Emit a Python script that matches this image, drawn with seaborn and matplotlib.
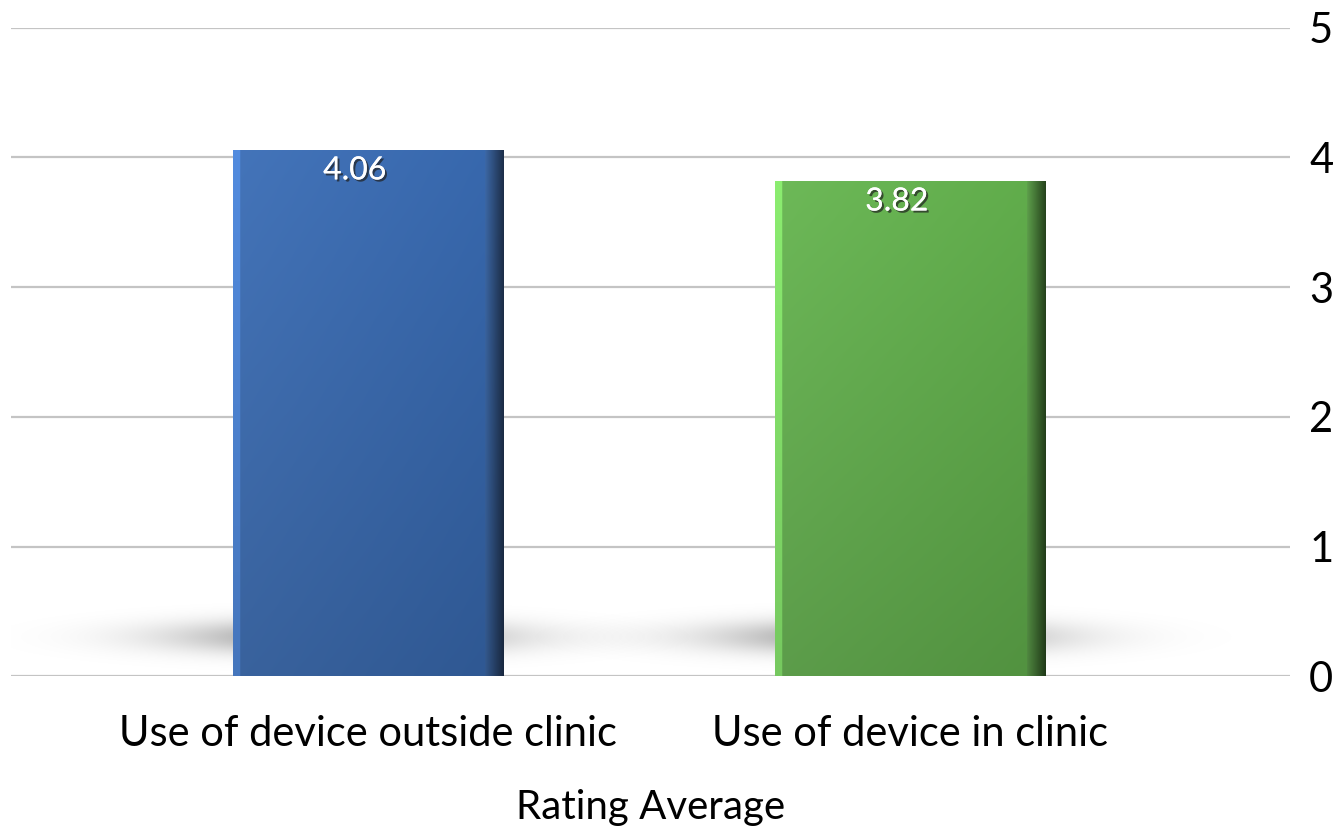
import numpy as np
import pandas as pd
import matplotlib.pyplot as plt
import matplotlib.patheffects as pe
from matplotlib.colors import to_rgb
import seaborn as sns

categories = ['Use of device outside clinic', 'Use of device in clinic']
ratings = [4.06, 3.82]
value_labels = ['4.06', '3.82']
yticks = [0, 1, 2, 3, 4, 5]
xlabel = 'Rating Average'

# light / mid / dark shade per bar
shades = [('#4f86d6', '#3b66a3', '#1c2d47'),
          ('#86e46c', '#5c9c4a', '#25421c')]

df = pd.DataFrame({'category': categories, 'rating': ratings})

sns.set_style('white')
plt.rcParams['font.family'] = ['Lato', 'DejaVu Sans']

fig = plt.figure(figsize=(13.35, 8.39), dpi=100)
ax = fig.add_axes([0.008, 0.194, 0.958, 0.773])

sns.barplot(data=df, x='category', y='rating', hue='category',
            palette=[s[1] for s in shades], width=0.5, legend=False,
            saturation=1, ax=ax, zorder=3)
bars = list(ax.patches)

ax.set_xlim(-0.66, 1.70)
ax.set_ylim(0, 5)
ax.set_yticks(yticks)
ax.yaxis.tick_right()
ax.tick_params(axis='y', length=0, pad=14, labelsize=30, labelcolor='black')
ax.tick_params(axis='x', length=0, pad=28, labelsize=30, labelcolor='black')
ax.grid(axis='y', color='#c4c4c4', linewidth=1.6, zorder=1)
ax.set_axisbelow(True)
for s in ax.spines.values():
    s.set_visible(False)
ax.set_ylabel('')
ax.set_xlabel(xlabel, fontsize=29, labelpad=26, color='black')

# soft shadow under the bars
for p in bars:
    cx = p.get_x() + p.get_width() * 0.4
    xs = np.linspace(cx - 0.7, cx + 0.7, 200)
    ys = np.linspace(0, 0.8, 80)
    gx, gy = np.meshgrid(xs, ys)
    blob = np.exp(-((gx - cx) / 0.3) ** 2 - ((gy - 0.3) / 0.13) ** 2)
    img = np.zeros((80, 200, 4))
    img[..., 3] = blob * 0.4
    ax.imshow(img, extent=[xs[0], xs[-1], 0, 0.8], origin='lower',
              aspect='auto', zorder=2, interpolation='bilinear')

# gradient fill clipped to each bar
for p, (light, mid, dark) in zip(bars, shades):
    x0, w, h = p.get_x(), p.get_width(), p.get_height()
    n = 300
    t = np.linspace(0, 1, n)
    l, m, d = np.array(to_rgb(light)), np.array(to_rgb(mid)), np.array(to_rgb(dark))
    row = np.empty((n, 3))
    for i, v in enumerate(t):
        if v < 0.025:
            row[i] = l
        elif v < 0.93:
            row[i] = l * 0.3 + m * 0.7 - (v - 0.025) * 0.05
        else:
            k = (v - 0.93) / 0.07
            row[i] = m * (1 - k) + d * k
    vert = np.linspace(0.88, 1.04, 200)[:, None, None]
    img = np.clip(row[None, :, :] * vert, 0, 1)
    im = ax.imshow(img, extent=[x0, x0 + w, 0, h], origin='lower',
                   aspect='auto', zorder=4, interpolation='bilinear')
    im.set_clip_path(p)
    p.set_edgecolor('none')

for p, lab in zip(bars, value_labels):
    ax.text(p.get_x() + p.get_width() * 0.45, p.get_height() - 0.16, lab,
            ha='center', va='center', color='white', fontsize=23, zorder=6,
            path_effects=[pe.withSimplePatchShadow(offset=(1.5, -1.5),
                                                   shadow_rgbFace='#202020',
                                                   alpha=0.7),
                          pe.Normal()])

ax.set_xlim(-0.66, 1.70)
ax.set_ylim(0, 5)
plt.savefig('out.png', dpi=100)
